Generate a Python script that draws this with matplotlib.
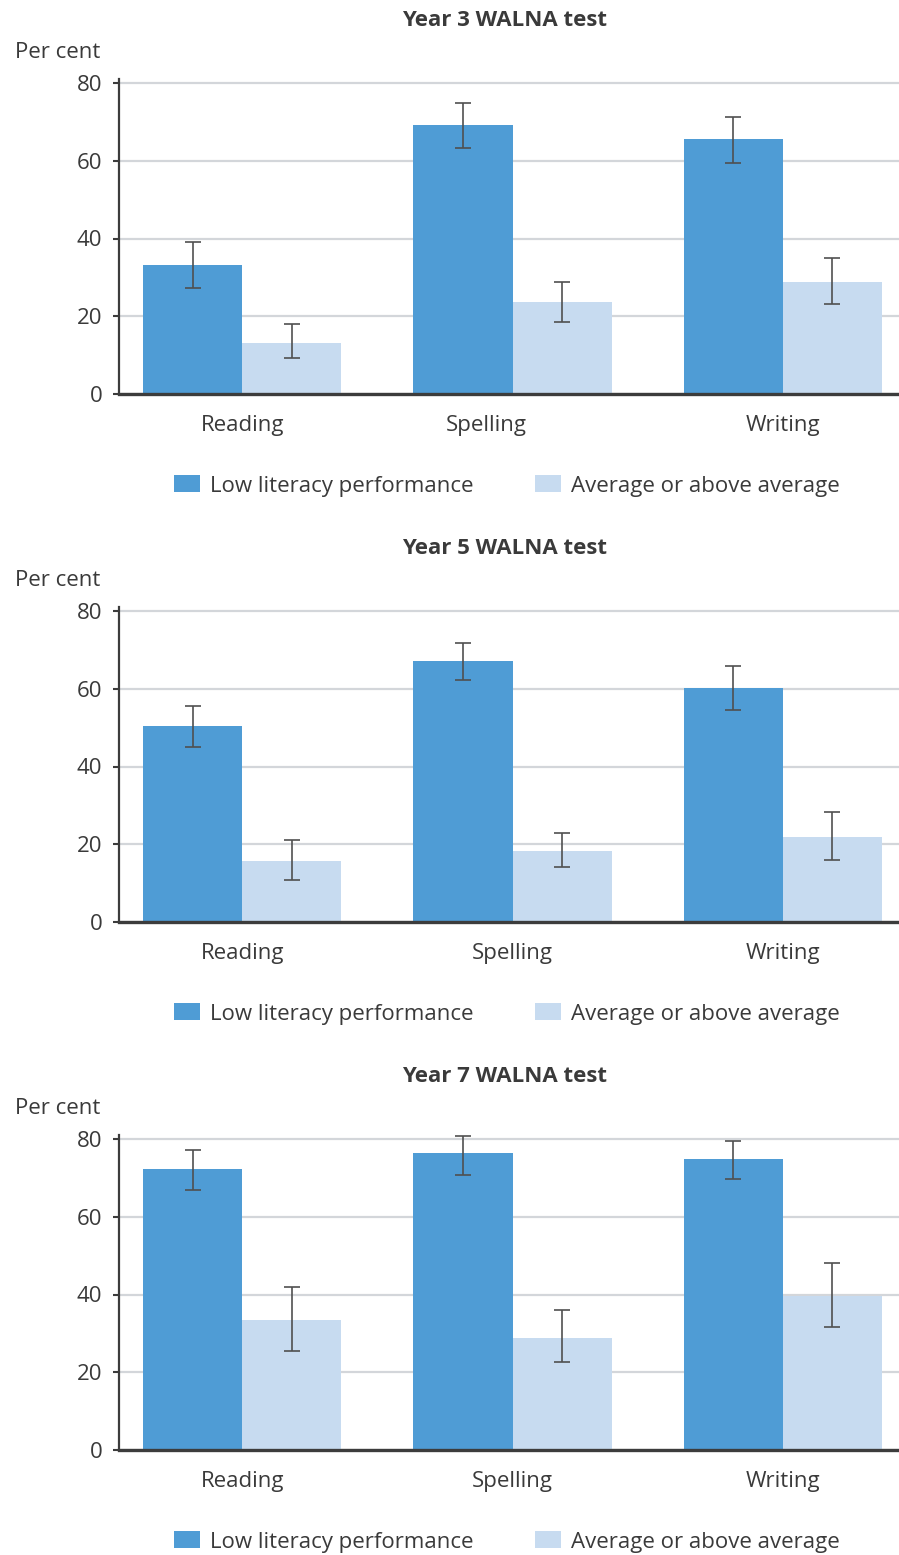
import matplotlib
matplotlib.use("Agg")
import matplotlib.pyplot as plt
from matplotlib.patches import Patch
import numpy as np

plt.rcParams['font.family'] = ['Open Sans', 'DejaVu Sans']

# data
subjects = ['Reading', 'Spelling', 'Writing']
titles = ['Year 3 WALNA test', 'Year 5 WALNA test', 'Year 7 WALNA test']
series_names = ['Low literacy performance', 'Average or above average']

low_vals = [[33.2, 69.2, 65.6], [50.5, 67.2, 60.3], [72.2, 76.3, 74.9]]
low_lo = [[27.3, 63.3, 59.4], [45.0, 62.3, 54.6], [66.8, 70.7, 69.7]]
low_hi = [[39.1, 74.9, 71.3], [55.6, 71.7, 65.9], [77.2, 80.8, 79.4]]

avg_vals = [[13.2, 23.7, 28.8], [15.6, 18.3, 21.9], [33.4, 28.8, 39.7]]
avg_lo = [[9.3, 18.5, 23.2], [10.9, 14.1, 16.0], [25.4, 22.6, 31.7]]
avg_hi = [[18.0, 28.8, 35.0], [21.0, 23.0, 28.4], [42.0, 35.9, 48.0]]

yticks = [0, 20, 40, 60, 80]

DARK = '#4f9cd5'
LIGHT = '#c7dbf0'
GRID = '#d3d6da'
AXIS = '#3c3c3c'
TEXT = '#3a3a3a'
ERR = '#505050'
FS = 16

W, H = 899, 1555
fig = plt.figure(figsize=(W / 100, H / 100), dpi=100)

px_per_unit = 3.8875
ymax = 81
panel_step = 528
bar_w = 0.367

for i in range(3):
    zero_px = 394 + i * panel_step
    top_px = zero_px - ymax * px_per_unit
    ax = fig.add_axes([119 / W, 1 - zero_px / H, 780 / W, (zero_px - top_px) / H])

    x = np.arange(len(subjects))
    lv = np.array(low_vals[i])
    av = np.array(avg_vals[i])
    low_err = [lv - np.array(low_lo[i]), np.array(low_hi[i]) - lv]
    avg_err = [av - np.array(avg_lo[i]), np.array(avg_hi[i]) - av]

    ax.bar(x - bar_w / 2, lv, bar_w, color=DARK, zorder=2)
    ax.bar(x + bar_w / 2, av, bar_w, color=LIGHT, zorder=2)
    ax.errorbar(x - bar_w / 2, lv, yerr=low_err, fmt='none', ecolor=ERR,
                elinewidth=1.2, capsize=6, capthick=1.2, zorder=3)
    ax.errorbar(x + bar_w / 2, av, yerr=avg_err, fmt='none', ecolor=ERR,
                elinewidth=1.2, capsize=6, capthick=1.2, zorder=3)

    ax.set_xlim(-0.456, 2.43)
    ax.set_ylim(0, ymax)
    ax.set_yticks(yticks)
    ax.yaxis.grid(True, color=GRID, linewidth=1.6, zorder=0)
    ax.set_axisbelow(True)

    # the Year 3 chart has its Spelling label nudged left
    label_pos = x.astype(float)
    if i == 0:
        label_pos[1] -= 0.096
    ax.set_xticks(label_pos)
    ax.set_xticklabels(subjects)
    ax.tick_params(axis='x', length=0, pad=15, labelsize=FS, labelcolor=TEXT)
    ax.tick_params(axis='y', length=4, width=1.5, color=AXIS, pad=8,
                   labelsize=FS, labelcolor=TEXT)

    for s in ['top', 'right']:
        ax.spines[s].set_visible(False)
    ax.spines['left'].set_color(AXIS)
    ax.spines['left'].set_linewidth(1.6)
    ax.spines['bottom'].set_color(AXIS)
    ax.spines['bottom'].set_linewidth(2.4)
    ax.spines['bottom'].set_zorder(4)

    fig.text(505 / W, 1 - (20 + i * panel_step) / H, titles[i], ha='center',
             va='center', fontsize=FS, fontweight='bold', color=TEXT)
    fig.text(15 / W, 1 - (52 + i * panel_step) / H, 'Per cent', ha='left',
             va='center', fontsize=FS, color=TEXT)

    handles = [Patch(facecolor=DARK, edgecolor='none'),
               Patch(facecolor=LIGHT, edgecolor='none')]
    fig.legend(handles, series_names, loc='center',
               bbox_to_anchor=(507 / W, 1 - (486 + i * panel_step) / H),
               ncol=2, frameon=False, fontsize=FS, labelcolor=TEXT,
               handlelength=1.17, handleheight=0.8, handletextpad=0.45,
               columnspacing=2.75, borderaxespad=0, borderpad=0)

fig.savefig('out.png', dpi=100)
